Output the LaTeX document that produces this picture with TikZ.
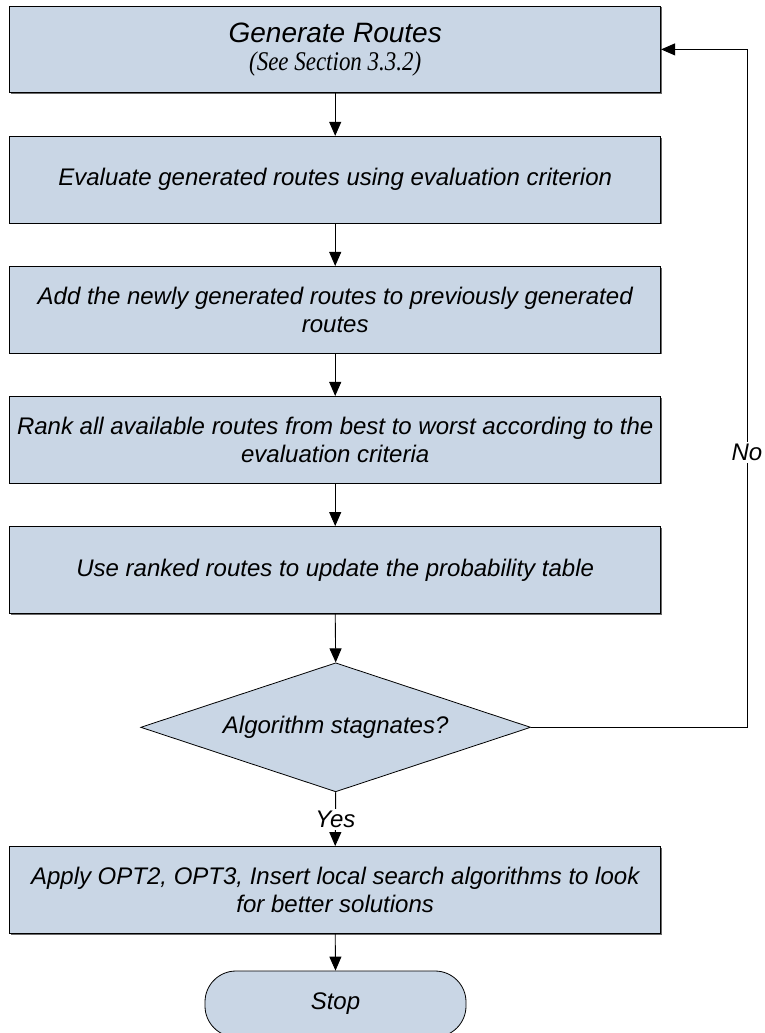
\documentclass[tikz,border=0pt]{standalone}
\usepackage{fontspec}
\setmainfont{Liberation Sans}
\newfontfamily\serifit{Liberation Serif}[FakeStretch=0.85]
\usetikzlibrary{shapes.geometric,arrows.meta}
\definecolor{boxfill}{HTML}{C9D6E5}
\definecolor{shadowgray}{HTML}{6A6A6A}
\tikzset{
  stepbox/.style={draw=black, line width=0.8pt, fill=boxfill,
    minimum width=651pt, minimum height=86.7pt, inner sep=0pt,
    align=center, font=\fontsize{24}{27.6}\selectfont\itshape,
    preaction={fill=shadowgray, transform canvas={shift={(1.2pt,-1.4pt)}}}},
  decision/.style={draw=black, line width=0.8pt, fill=boxfill, shape=diamond,
    aspect=3.02, minimum width=390pt, minimum height=129pt, inner sep=0pt,
    font=\fontsize{24}{27.6}\selectfont\itshape},
  terminal/.style={draw=black, line width=0.8pt, fill=boxfill, rounded corners=31pt,
    minimum width=261pt, minimum height=66pt, inner sep=0pt,
    font=\fontsize{24}{27.6}\selectfont\itshape},
  flow/.style={line width=0.9pt, -{Triangle[length=14pt,width=12pt]}},
  lbl/.style={fill=white, inner sep=2pt, font=\fontsize{24}{27.6}\selectfont\itshape},
}
\begin{document}
\begin{tikzpicture}[x=1pt,y=-1pt]
\useasboundingbox (0,0) rectangle (764,1033);

\node[stepbox] (b1) at (335.2,49.4)
  {{\fontsize{28}{30}\selectfont Generate Routes}\\[0pt]
   {\serifit\itshape\fontsize{27}{31}\selectfont (See Section 3.3.2)}};
\node[stepbox] (b2) at (335.2,179.6)
  {Evaluate generated routes using evaluation criterion};
\node[stepbox] (b3) at (335.2,309.7)
  {Add the newly generated routes to previously generated\\routes};
\node[stepbox] (b4) at (335.2,439.7)
  {Rank all available routes from best to worst according to the\\evaluation criteria};
\node[stepbox] (b5) at (335.2,569.8)
  {Use ranked routes to update the probability table};
\node[decision] (d) at (335.7,727.3) {Algorithm stagnates?};
\node[stepbox] (b6) at (335.2,889.8)
  {Apply OPT2, OPT3, Insert local search algorithms to look\\for better solutions};
\node[terminal] (stop) at (335.5,1004) {Stop};

\coordinate (loopx) at (747,0);

\draw[flow] (b1.south) -- (b2.north);
\draw[flow] (b2.south) -- (b3.north);
\draw[flow] (b3.south) -- (b4.north);
\draw[flow] (b4.south) -- (b5.north);
\draw[flow] (b5.south) -- (d.north);
\draw[flow] (d.south) -- node[lbl] (yes) {Yes} (b6.north);
\draw[flow] (b6.south) -- (stop.north);
\draw[flow] (d.east) -- (d.east -| loopx) |- node[lbl, pos=0.2025] (no) {No} (b1.east);
\end{tikzpicture}
\end{document}
